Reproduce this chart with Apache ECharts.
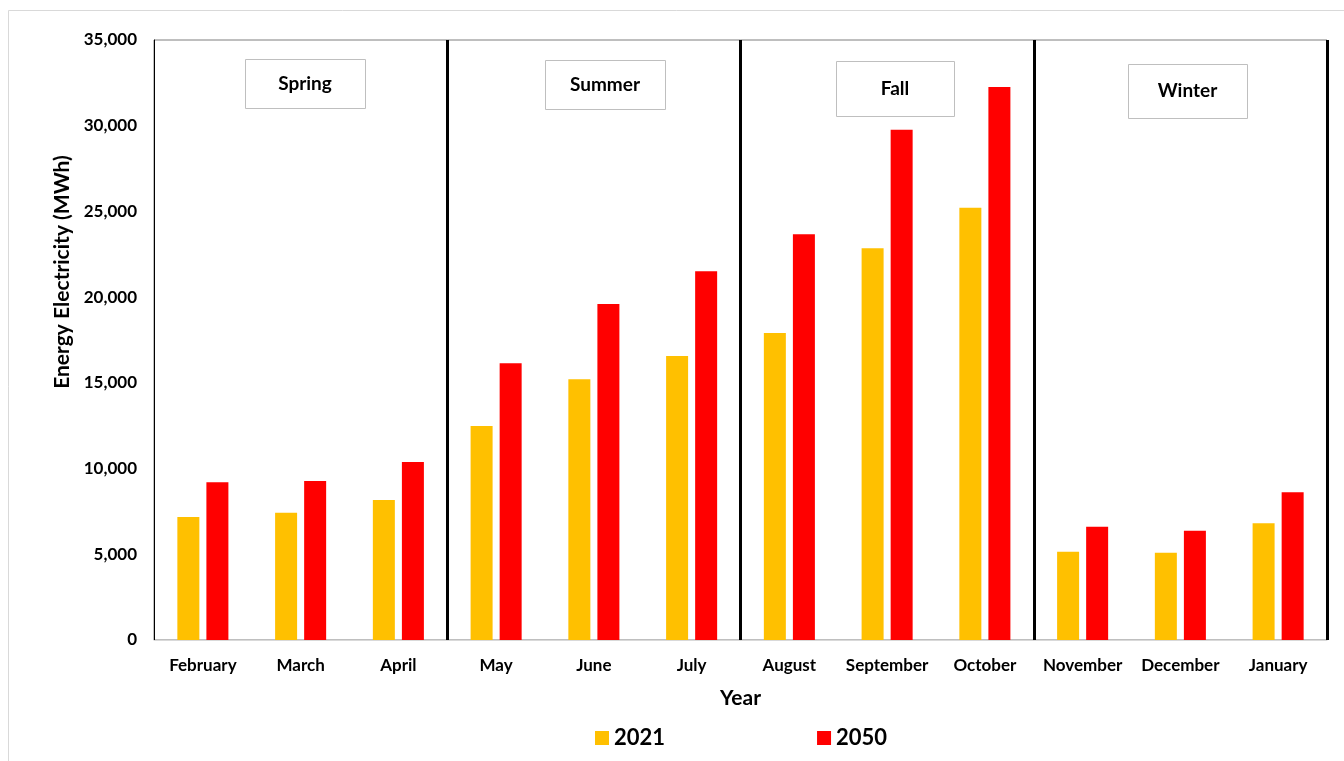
<!DOCTYPE html>
<html>
<head>
<meta charset="utf-8">
<title>Monthly Energy Electricity</title>
<script src="https://cdn.jsdelivr.net/npm/echarts@6/dist/echarts.min.js"></script>
<style>
  html, body { margin: 0; padding: 0; background: #ffffff; }
  #chart { width: 1344px; height: 761px; }
</style>
</head>
<body>
<div id="chart"></div>
<script>
// Months, ordered by season (Spring, Summer, Fall, Winter)
const months = ['February', 'March', 'April', 'May', 'June', 'July',
                'August', 'September', 'October', 'November', 'December', 'January'];

// Monthly electricity energy in MWh
const energy2021 = [7170, 7430, 8170, 12480, 15210, 16570, 17910, 22850, 25220, 5150, 5090, 6810];
const energy2050 = [9200, 9280, 10380, 16140, 19600, 21510, 23670, 29770, 32260, 6610, 6380, 8620];

// Season names shown in the boxes at the top of each block of three months
const seasons = ['Spring', 'Summer', 'Fall', 'Winter'];

// Category indices where a season block starts (separator lines)
const seasonStarts = [3, 6, 9];

const FONT = 'Lato, "Open Sans", sans-serif';

const chart = echarts.init(document.getElementById('chart'), null, { renderer: 'canvas' });

// Season label boxes: [left, top, width, height]
const seasonBoxes = [
  [245, 59, 120, 49],
  [545, 60, 120, 49],
  [836, 61, 118, 55],
  [1128, 64, 119, 54]
];

const graphics = [
  // light outer frame
  { type: 'rect', shape: { x: 8.5, y: 10.5, width: 1400, height: 800 },
    style: { fill: 'none', stroke: '#d9d9d9', lineWidth: 1 }, silent: true, z: 0 },
  // y-axis title
  { type: 'text', x: 62, y: 272, rotation: Math.PI / 2,
    style: { text: 'Energy Electricity (MWh)', font: 'bold 21px ' + FONT, fill: '#000',
             align: 'center', verticalAlign: 'middle' }, z: 10 }
];

seasons.forEach((name, i) => {
  const [x, y, w, h] = seasonBoxes[i];
  graphics.push({
    type: 'group', z: 20,
    children: [
      { type: 'rect', shape: { x: x + 0.5, y: y + 0.5, width: w, height: h },
        style: { fill: '#ffffff', stroke: '#bfbfbf', lineWidth: 1 } },
      { type: 'text', x: x + w / 2, y: y + h / 2,
        style: { text: name, font: 'bold 19px ' + FONT, fill: '#000',
                 align: 'center', verticalAlign: 'middle' } }
    ]
  });
});

const option = {
  backgroundColor: '#ffffff',
  animation: false,
  textStyle: { fontFamily: FONT },
  grid: {
    left: 154, right: 17, top: 40, bottom: 121,
    show: true, borderColor: '#7f7f7f', borderWidth: 1, backgroundColor: 'transparent'
  },
  legend: {
    left: 590, top: 722,
    itemWidth: 14, itemHeight: 14, itemGap: 152,
    icon: 'rect',
    textStyle: { fontSize: 22, fontWeight: 'bold', color: '#000', fontFamily: FONT },
    data: ['2021', '2050']
  },
  xAxis: {
    type: 'category',
    data: months,
    name: 'Year',
    nameLocation: 'middle',
    nameGap: 48,
    nameTextStyle: { fontSize: 21, fontWeight: 'bold', color: '#000', fontFamily: FONT },
    axisLine: { show: true, lineStyle: { color: '#d9d9d9', width: 1 } },
    axisTick: { show: false },
    axisLabel: { interval: 0, fontSize: 17, fontWeight: 'bold', color: '#000', margin: 17, fontFamily: FONT },
    splitLine: {
      show: true,
      interval: (index) => seasonStarts.includes(index),
      lineStyle: { color: '#000000', width: 3 }
    }
  },
  yAxis: {
    type: 'value',
    min: 0, max: 35000, interval: 5000,
    axisLine: { show: true, lineStyle: { color: '#000000', width: 1 } },
    axisTick: { show: false },
    splitLine: { show: false },
    axisLabel: {
      fontSize: 17, fontWeight: 'bold', color: '#000', margin: 17, fontFamily: FONT,
      formatter: (v) => v.toLocaleString('en-US')
    }
  },
  series: [
    { name: '2021', type: 'bar', data: energy2021, barWidth: 22, barGap: '32%',
      itemStyle: { color: '#FFC000' } },
    { name: '2050', type: 'bar', data: energy2050, barWidth: 22, barGap: '32%',
      itemStyle: { color: '#FF0000' } }
  ],
  graphic: graphics
};

chart.setOption(option);
</script>
</body>
</html>
